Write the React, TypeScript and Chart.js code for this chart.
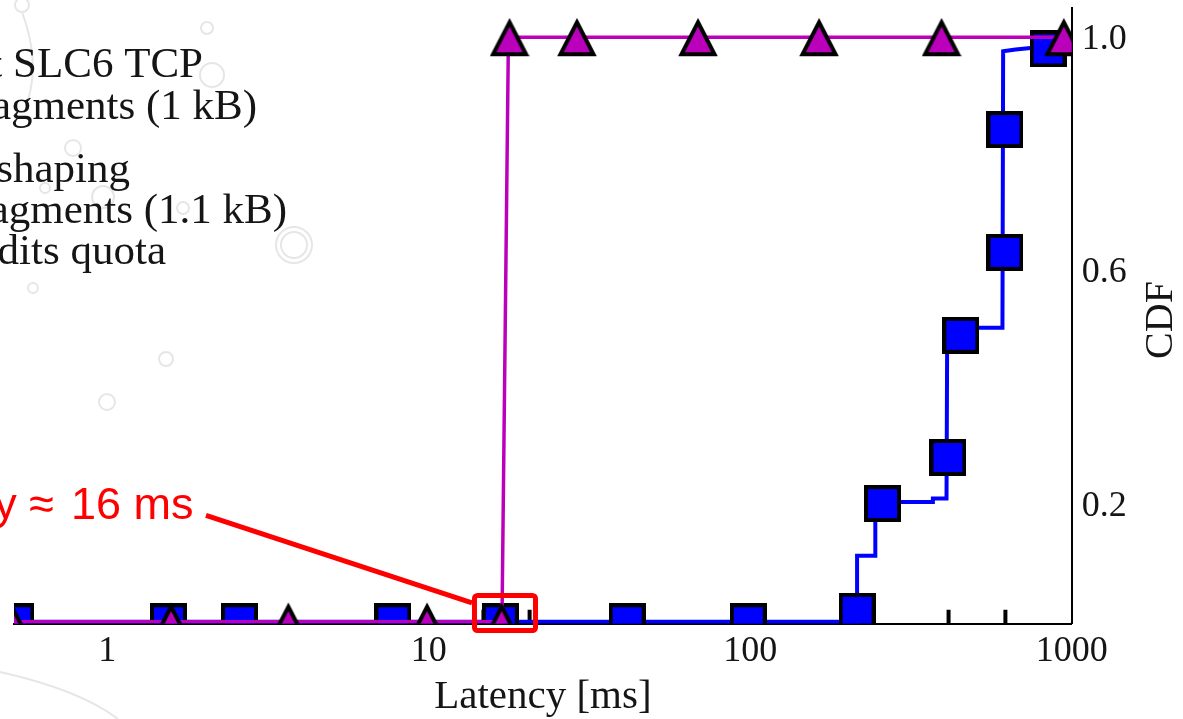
import React, { useEffect, useRef } from "react";
import { Chart, registerables } from "chart.js";

Chart.register(...registerables);

// ---------- data ----------
const xTickValues = [1, 10, 100, 1000];
const yTickValues = [0.2, 0.6, 1.0];

// Default SLC6 TCP, 1 kB fragments (blue squares)
const blueCurveMs = [0.45, 215, 215, 245, 245, 368, 370, 408, 410, 609, 612, 669, 860, 1000];
const blueCurveCdf = [0, 0, 0.113, 0.113, 0.205, 0.205, 0.211, 0.211, 0.503, 0.503, 0.976, 0.979, 0.985, 1.0];
const blueMarkMs = [0.52, 1.55, 2.58, 7.74, 16.7, 41.4, 98.6, 215, 258, 412, 452, 620, 620, 844];
const blueMarkCdf = [0, 0, 0, 0, 0, 0, 0, 0.018, 0.202, 0.281, 0.49, 0.632, 0.842, 0.98];

// Traffic shaping, 1.1 kB fragments, credits quota (magenta triangles)
const magentaCurveMs = [0.45, 16.9, 17.7, 1000];
const magentaCurveCdf = [0, 0, 1, 1];
const magentaMarkMs = [0.505, 1.58, 3.66, 9.88, 16.86, 17.84, 28.9, 68.8, 163.7, 393.7, 945];
const magentaMarkCdf = [0, 0, 0, 0, 0, 1, 1, 1, 1, 1, 1];

// short black marks standing on the x axis
const blackMarkMs = [14.8, 20.6, 414, 622];
const blackMarkCdf = [0, 0, 0, 0];

const legendLines = [
  "Default SLC6 TCP",
  "fragments (1 kB)",
  "Traffic shaping",
  "fragments (1.1 kB)",
  "credits quota",
];
const annotationLabel = "Latency ≈";
const annotationValue = "16 ms";
const annotationBoxMs = [13.88, 21.49];
const annotationBoxCdf = [0.0449, -0.015];
const annotationLineMs = [2.029, 13.64];
const annotationLineCdf = [0.1818, 0.0321];
const annotationLabelAt = [0.683, 0.1758];
const annotationValueAt = [1.855, 0.1758];

// ---------- styles ----------
const SERIF = "'Liberation Serif', 'Times New Roman', serif";
const SANS = "'Liberation Sans', Arial, sans-serif";
const BLUE = "#0000ff";
const MAGENTA = "#bb00bb";
const TEXT = "#151515";

function makeSquare(size: number, border: number, fill: string) {
  const c = document.createElement("canvas");
  c.width = size;
  c.height = size;
  const g = c.getContext("2d")!;
  g.fillStyle = "#000";
  g.fillRect(0, 0, size, size);
  g.fillStyle = fill;
  g.fillRect(border, border, size - 2 * border, size - 2 * border);
  return c;
}

function makeTriangle(size: number, lw: number, fill: string) {
  const c = document.createElement("canvas");
  c.width = size;
  c.height = size;
  const g = c.getContext("2d")!;
  g.beginPath();
  g.moveTo(size / 2, 5);
  g.lineTo(size - 3.5, size - 3);
  g.lineTo(3.5, size - 3);
  g.closePath();
  g.fillStyle = fill;
  g.fill();
  g.lineWidth = lw;
  g.lineJoin = "miter";
  g.strokeStyle = "#000";
  g.stroke();
  return c;
}

const pts = (xs: number[], ys: number[]) => xs.map((x, i) => ({ x, y: ys[i] }));

const decorPlugin = {
  id: "decor",
  beforeDraw(chart: any) {
    const ctx = chart.ctx as CanvasRenderingContext2D;
    ctx.save();
    ctx.fillStyle = "#fff";
    ctx.fillRect(0, 0, chart.width, chart.height);
    ctx.strokeStyle = "#e6e6e6";
    ctx.lineWidth = 2;
    const rings = [
      [22, 5, 7], [207, 28, 6], [212, 75, 12], [73, 148, 8], [45, 188, 5],
      [103, 197, 11], [183, 208, 6], [294, 245, 18], [294, 245, 13], [33, 288, 5],
      [166, 359, 7], [107, 402, 8],
    ];
    rings.forEach(([x, y, r]) => {
      ctx.beginPath();
      ctx.arc(x, y, r, 0, Math.PI * 2);
      ctx.stroke();
    });
    ctx.beginPath();
    ctx.moveTo(22, 12);
    ctx.quadraticCurveTo(40, 60, 28, 100);
    ctx.stroke();
    ctx.beginPath();
    ctx.moveTo(0, 672);
    ctx.quadraticCurveTo(80, 690, 118, 719);
    ctx.stroke();
    ctx.restore();
  },
};

const textPlugin = {
  id: "texts",
  afterDraw(chart: any) {
    const ctx = chart.ctx as CanvasRenderingContext2D;
    const xs = chart.scales.x;
    const ys = chart.scales.y;
    ctx.save();
    // legend (cropped on the left)
    ctx.fillStyle = TEXT;
    ctx.font = `43px ${SERIF}`;
    ctx.textAlign = "right";
    ctx.textBaseline = "alphabetic";
    const legendRight = [203, 257, 130, 287, 166];
    const legendBase = [77, 119, 182, 223, 264];
    legendLines.forEach((t, i) => ctx.fillText(t, legendRight[i], legendBase[i]));

    // y axis title, reading bottom-to-top
    ctx.save();
    ctx.translate(1172, 320);
    ctx.rotate(-Math.PI / 2);
    ctx.textAlign = "center";
    ctx.font = `40px ${SERIF}`;
    ctx.fillText("CDF", 0, 0);
    ctx.restore();

    // red annotation
    ctx.strokeStyle = "#ff0000";
    ctx.fillStyle = "#ff0000";
    ctx.lineWidth = 5;
    const bx0 = xs.getPixelForValue(annotationBoxMs[0]);
    const bx1 = xs.getPixelForValue(annotationBoxMs[1]);
    const by0 = ys.getPixelForValue(annotationBoxCdf[0]);
    const by1 = ys.getPixelForValue(annotationBoxCdf[1]);
    ctx.beginPath();
    if ((ctx as any).roundRect) (ctx as any).roundRect(bx0, by0, bx1 - bx0, by1 - by0, 3);
    else ctx.rect(bx0, by0, bx1 - bx0, by1 - by0);
    ctx.stroke();
    ctx.beginPath();
    ctx.moveTo(xs.getPixelForValue(annotationLineMs[0]), ys.getPixelForValue(annotationLineCdf[0]));
    ctx.lineTo(xs.getPixelForValue(annotationLineMs[1]), ys.getPixelForValue(annotationLineCdf[1]));
    ctx.stroke();
    ctx.font = `45px ${SANS}`;
    ctx.textAlign = "right";
    ctx.textBaseline = "alphabetic";
    ctx.fillText(annotationLabel, xs.getPixelForValue(annotationLabelAt[0]), ys.getPixelForValue(annotationLabelAt[1]));
    ctx.fillText(annotationValue, xs.getPixelForValue(annotationValueAt[0]), ys.getPixelForValue(annotationValueAt[1]));
    ctx.restore();
  },
};

export default function App() {
  const ref = useRef<HTMLCanvasElement>(null);

  useEffect(() => {
    document.body.style.margin = "0";
    const canvas = ref.current!;
    const square = makeSquare(37, 4, BLUE);
    const tri = makeTriangle(40, 4, MAGENTA);

    const chart = new Chart(canvas, {
      type: "line",
      data: {
        datasets: [
          {
            label: "magenta markers",
            data: pts(magentaMarkMs, magentaMarkCdf),
            showLine: false,
            pointStyle: tri as any,
            pointRadius: 20,
            pointHoverRadius: 20,
            borderWidth: 0,
            order: 0,
          },
          {
            label: "Traffic shaping",
            data: pts(magentaCurveMs, magentaCurveCdf),
            borderColor: MAGENTA,
            borderWidth: 3.5,
            pointRadius: 0,
            order: 1,
          },
          {
            label: "blue markers",
            data: pts(blueMarkMs, blueMarkCdf),
            showLine: false,
            pointStyle: square as any,
            pointRadius: 20,
            pointHoverRadius: 20,
            borderWidth: 0,
            order: 2,
          },
          {
            label: "Default SLC6 TCP",
            data: pts(blueCurveMs, blueCurveCdf),
            borderColor: BLUE,
            borderWidth: 4,
            pointRadius: 0,
            order: 3,
          },
          {
            label: "marks",
            data: pts(blackMarkMs, blackMarkCdf),
            showLine: false,
            pointStyle: "line",
            rotation: 90,
            pointRadius: 12,
            borderColor: "#000",
            borderWidth: 4,
            order: 4,
          } as any,
        ],
      },
      options: {
        animation: false,
        responsive: false,
        events: [],
        layout: { autoPadding: false, padding: { left: 14, top: 8, right: 0, bottom: 0 } },
        plugins: { legend: { display: false }, tooltip: { enabled: false } },
        scales: {
          x: {
            type: "logarithmic",
            position: "bottom",
            min: 0.513,
            max: 1000,
            z: 1,
            grid: { display: false, drawTicks: false },
            border: { display: true, color: "#000", width: 2 },
            ticks: {
              autoSkip: false,
              maxRotation: 0,
              padding: 6,
              color: TEXT,
              font: { family: SERIF, size: 36 },
              callback: (v: any) => String(v),
            },
            title: {
              display: true,
              text: "Latency [ms]",
              color: TEXT,
              font: { family: SERIF, size: 41, lineHeight: 1 },
              padding: { top: 0, bottom: 1 },
            },
            afterBuildTicks: (s: any) => {
              s.ticks = xTickValues.map((v) => ({ value: v }));
            },
            afterFit: (s: any) => {
              s.height = 95.5;
              s.paddingLeft = 0;
              s.paddingRight = 0;
            },
          },
          y: {
            type: "linear",
            position: "right",
            min: -0.003,
            max: 1.05,
            z: 1,
            grid: { display: false, drawTicks: false },
            border: { display: true, color: "#000", width: 2 },
            ticks: {
              padding: 10,
              labelOffset: 2,
              color: TEXT,
              font: { family: SERIF, size: 36 },
              callback: (v: any) => Number(v).toFixed(1),
            },
            afterBuildTicks: (s: any) => {
              s.ticks = yTickValues.map((v) => ({ value: v }));
            },
            afterFit: (s: any) => {
              s.width = 111.3;
              s.paddingTop = 0;
              s.paddingBottom = 0;
            },
          },
        },
      } as any,
      plugins: [decorPlugin, textPlugin],
    });

    return () => chart.destroy();
  }, []);

  return (
    <div style={{ width: 1183, height: 719 }}>
      <canvas ref={ref} width={1183} height={719} style={{ display: "block" }} />
    </div>
  );
}
